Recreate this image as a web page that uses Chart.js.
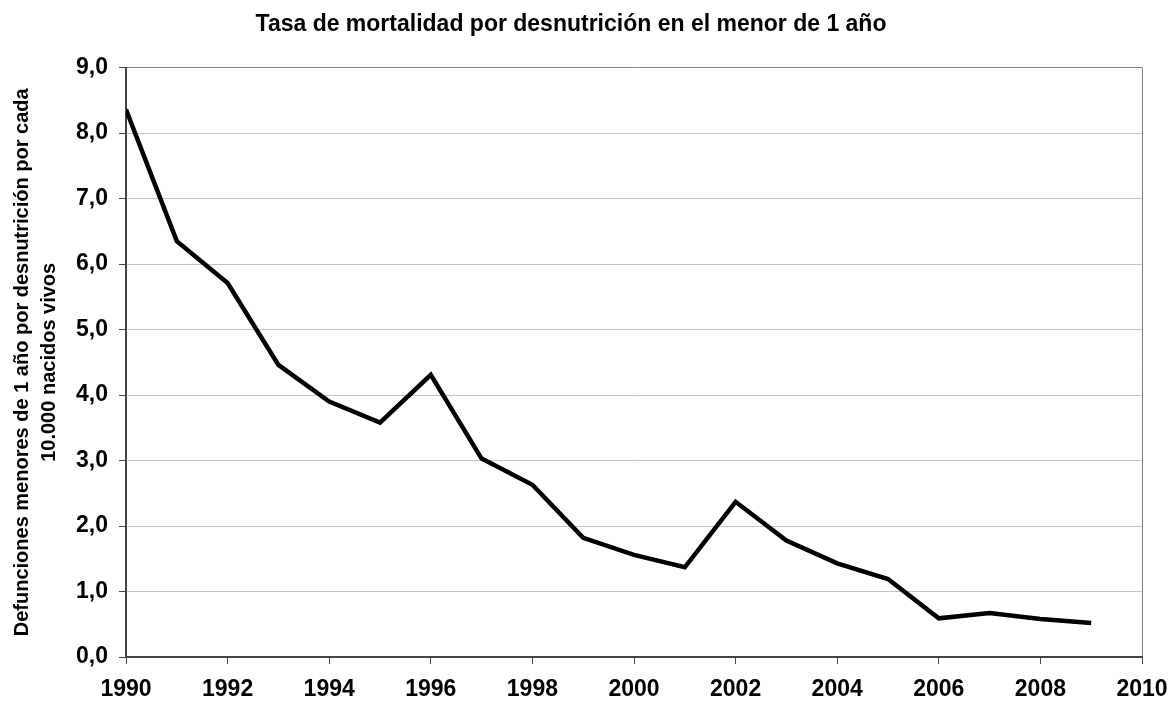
<!DOCTYPE html>
<html>
<head>
<meta charset="utf-8">
<script src="https://cdn.jsdelivr.net/npm/chart.js@4"></script>
<style>
  html, body { margin: 0; padding: 0; background: #fff; }
  #wrap { width: 1174px; height: 702px; }
</style>
</head>
<body>
<div id="wrap"><canvas id="mortality-chart" width="1174" height="702"></canvas></div>
<script>
// Years and rate per 10.000 live births
const years = [1990, 1991, 1992, 1993, 1994, 1995, 1996, 1997, 1998, 1999,
               2000, 2001, 2002, 2003, 2004, 2005, 2006, 2007, 2008, 2009]
const rates = [8.36, 6.35, 5.71, 4.46, 3.90, 3.58, 4.31, 3.03, 2.63, 1.82,
               1.56, 1.37, 2.37, 1.78, 1.43, 1.19, 0.59, 0.67, 0.58, 0.52]

// Tick labels on each axis
const xTicks = [1990, 1992, 1994, 1996, 1998, 2000, 2002, 2004, 2006, 2008, 2010]
const yTicks = [0, 1, 2, 3, 4, 5, 6, 7, 8, 9]

const FONT = '"Liberation Sans", Arial, Helvetica, sans-serif'

let ctx = document.querySelector('#mortality-chart').getContext('2d')

let points = years.map(function(year, i) {
    return {x: year, y: rates[i]}
})

let mortalityChart = new Chart(ctx, {
    type: 'line',
    data: {
        datasets: [
            {
                label: 'Tasa',
                data: points,
                borderColor: '#000',
                borderWidth: 4.5,
                borderJoinStyle: 'miter',
                pointRadius: 0,
                tension: 0,
                fill: false
            }
        ]
    },
    options: {
        responsive: false,
        animation: false,
        layout: {padding: {left: 0, right: 32, bottom: 0}},
        plugins: {
            legend: {display: false},
            tooltip: {enabled: false},
            title: {
                display: true,
                text: 'Tasa de mortalidad por desnutrición en el menor de 1 año',
                color: '#000',
                font: {family: FONT, size: 23, weight: 'bold'},
                padding: {top: 11, bottom: 29}
            }
        },
        scales: {
            x: {
                type: 'linear',
                min: 1990,
                max: 2010,
                afterBuildTicks: function(scale) {
                    scale.ticks = xTicks.map(v => ({value: v}))
                },
                // fixed axis height, and let the layout padding decide the right edge
                afterFit: function(scale) {
                    scale.height = 45
                    scale.paddingLeft = 0
                    scale.paddingRight = 0
                },
                ticks: {
                    color: '#000',
                    font: {family: FONT, size: 23, weight: 'bold'},
                    padding: 12,
                    maxRotation: 0,
                    autoSkip: false,
                    callback: v => String(v)
                },
                grid: {
                    color: c => (c.tick && c.tick.value === 2010) ? '#808080' : 'rgba(0,0,0,0)',
                    lineWidth: 1,
                    tickColor: '#444',
                    tickLength: 7
                },
                border: {color: '#444', width: 2}
            },
            y: {
                min: 0,
                max: 9,
                afterBuildTicks: function(scale) {
                    scale.ticks = yTicks.map(v => ({value: v}))
                },
                afterFit: function(scale) {
                    scale.width = 126
                    scale.paddingTop = 0
                    scale.paddingBottom = 0
                },
                ticks: {
                    color: '#000',
                    font: {family: FONT, size: 23, weight: 'bold'},
                    padding: 11,
                    callback: v => v.toFixed(1).replace('.', ',')
                },
                grid: {
                    color: c => (c.tick && c.tick.value === 9) ? '#808080' : '#c4c4c4',
                    lineWidth: 1,
                    tickColor: '#444',
                    tickLength: 7
                },
                border: {color: '#444', width: 2},
                title: {
                    display: true,
                    text: ['Defunciones menores de 1 año por desnutrición por cada', '10.000 nacidos vivos'],
                    color: '#000',
                    font: {family: FONT, size: 20, weight: 'bold', lineHeight: 1.35},
                    padding: {top: 9, bottom: 0}
                }
            }
        }
    }
})
</script>
</body>
</html>
